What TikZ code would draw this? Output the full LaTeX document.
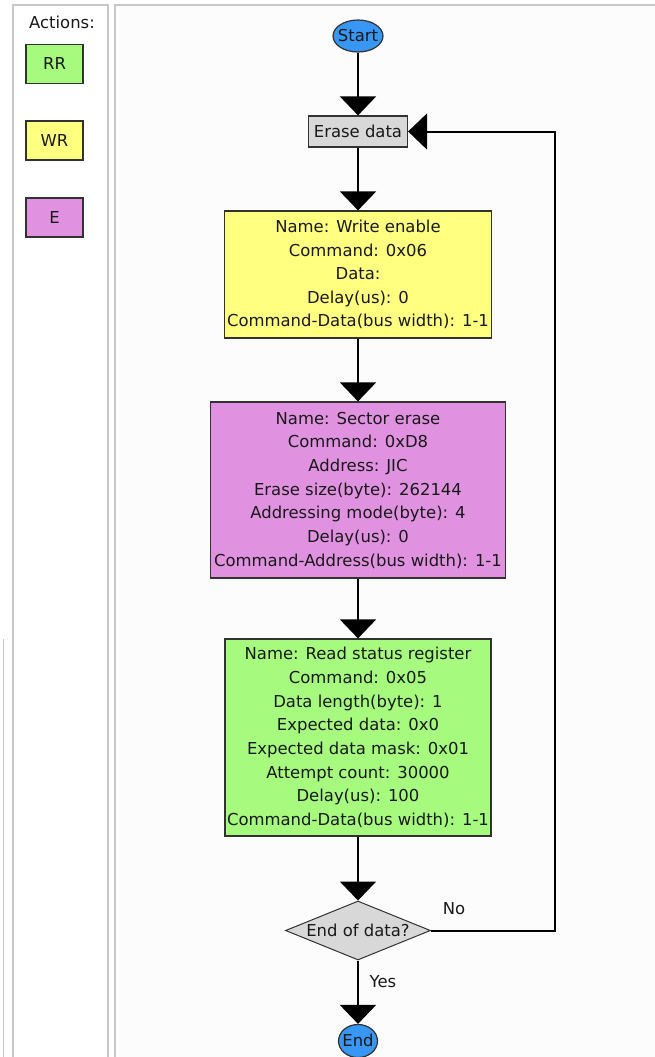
\documentclass[tikz,border=0pt]{standalone}
\usepackage{fontspec}
\setmainfont{DejaVu Sans}
\usetikzlibrary{shapes.geometric,arrows.meta}

\definecolor{rrgreen}{RGB}{166,250,125}
\definecolor{wryellow}{RGB}{255,255,128}
\definecolor{erpink}{RGB}{224,146,224}
\definecolor{stepgray}{RGB}{216,216,216}
\definecolor{termblue}{RGB}{56,150,245}
\definecolor{panelbg}{RGB}{252,252,252}
\definecolor{panelline}{RGB}{200,200,200}
\definecolor{inktext}{RGB}{25,25,25}
\definecolor{boxline}{RGB}{50,50,50}

\tikzset{
  boxbase/.style={rectangle, draw=boxline, line width=1.2bp, inner sep=0pt,
    align=center, text=inktext},
  legendbox/.style={boxbase, minimum width=57bp, minimum height=39bp},
  terminal/.style={ellipse, draw=boxline, line width=1.2bp, fill=termblue,
    inner sep=0pt, text=inktext},
  decision/.style={diamond, draw=boxline, line width=1bp, fill=stepgray,
    inner sep=0pt, aspect=2.46, minimum width=145bp, minimum height=59bp, text=inktext},
  flow/.style={draw=black, line width=2bp, -{Triangle[width=36bp,length=19bp]}},
  edgelabel/.style={text=inktext, inner sep=0pt},
}
\newcommand{\ctext}[1]{\smash{\raisebox{-0.36em}{\makebox[0pt]{#1}}}}

\begin{document}
\begin{tikzpicture}[x=1bp, y=-1bp, font=\fontsize{16.5}{23.75}\selectfont]
  \useasboundingbox (0,0) rectangle (655,1057);
  \fill[white] (0,0) rectangle (655,1057);

  % panels
  \fill[panelbg] (115,5) rectangle (655,1057);
  \draw[panelline, line width=1.2bp] (655,5) -- (115,5) -- (115,1057);
  \draw[panelline, line width=1.2bp] (13,1057) -- (13,5) -- (108,5) -- (108,1057);
  \draw[panelline, line width=1bp] (3,639) -- (3,1057);

  % legend
  \node[text=inktext] (acttitle) at (62,22) {Actions:};
  \node[legendbox, fill=rrgreen] (lgrr) at (54.5,64) {RR};
  \node[legendbox, fill=wryellow] (lgwr) at (54.5,140.5) {WR};
  \node[legendbox, fill=erpink] (lge) at (54.5,217.5) {E};

  % flow
  \node[terminal, minimum width=50bp, minimum height=32bp] (start) at (358,36) {\ctext{Start}};
  \node[boxbase, fill=stepgray, minimum width=99bp, minimum height=31bp] (erase) at (358,131.5) {Erase data};
  \node[boxbase, fill=wryellow, minimum width=267bp, minimum height=127bp] (we) at (358,274.5)
    {Name: Write enable\\Command: 0x06\\Data:\\Delay(us): 0\\Command-Data(bus width): 1-1};
  \node[boxbase, fill=erpink, minimum width=295bp, minimum height=176bp] (se) at (358,490)
    {Name: Sector erase\\Command: 0xD8\\Address: JIC\\Erase size(byte): 262144\\Addressing mode(byte): 4\\Delay(us): 0\\Command-Address(bus width): 1-1};
  \node[boxbase, fill=rrgreen, minimum width=266bp, minimum height=197bp] (rs) at (358,737.5)
    {Name: Read status register\\Command: 0x05\\Data length(byte): 1\\Expected data: 0x0\\Expected data mask: 0x01\\Attempt count: 30000\\Delay(us): 100\\Command-Data(bus width): 1-1};
  \node[decision] (eod) at (358,930.5) {End of data?};
  \node[terminal, minimum width=39bp, minimum height=33bp] (stop) at (358,1041) {\ctext{End}};

  \coordinate (loopcorner) at (555,930.5);

  \draw[flow] (start) -- (erase);
  \draw[flow] (erase) -- (we);
  \draw[flow] (we) -- (se);
  \draw[flow] (se) -- (rs);
  \draw[flow] (rs) -- (eod);
  \draw[flow] (eod) -- (stop);
  \draw[flow] (eod.east) -- (loopcorner) |- (erase.east);

  \node[edgelabel] (nolabel) at (454,909) {No};
  \node[edgelabel] (yeslabel) at (383,982) {Yes};
\end{tikzpicture}
\end{document}
